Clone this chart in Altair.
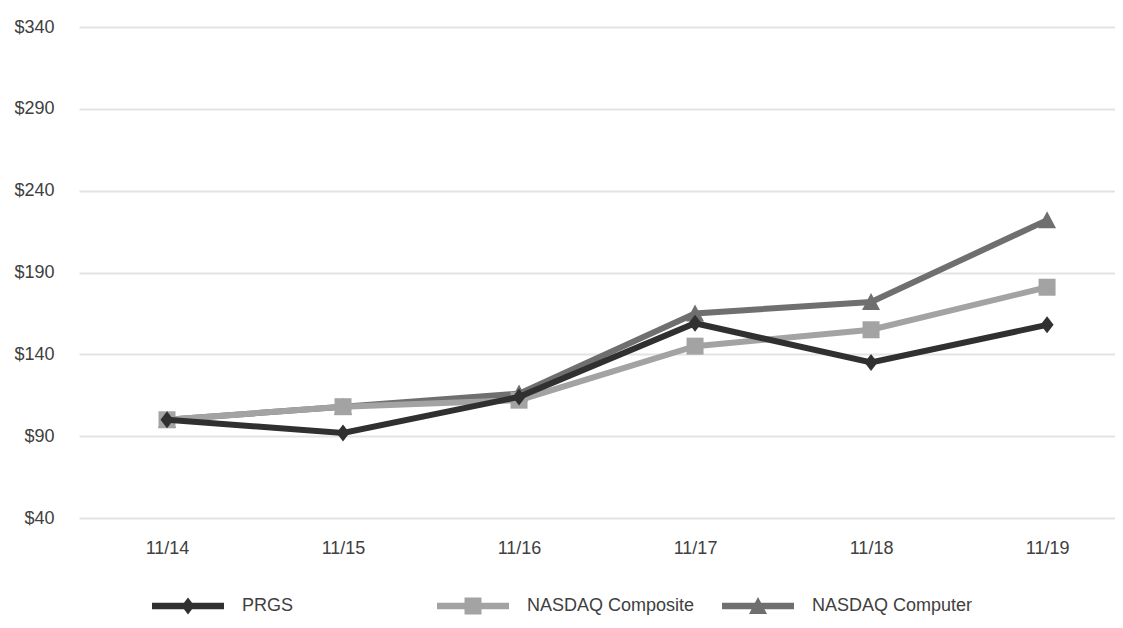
import json
import altair as alt
import pandas as pd

years = ["11/14", "11/15", "11/16", "11/17", "11/18", "11/19"]
series_names = ["PRGS", "NASDAQ Composite", "NASDAQ Computer"]
prgs = [100, 92, 114, 159, 135, 158]
composite = [100, 108, 112, 145, 155, 181]
computer = [100, 108, 116, 165, 172, 222]
colors = ["#303030", "#a3a3a3", "#6f6f6f"]
y_ticks = [40, 90, 140, 190, 240, 290, 340]

# marker shapes (custom paths, unit = sqrt(size)/2 px)
marker_paths = [
    "M0,-1.7L1.3,0L0,1.7L-1.3,0Z",
    "M-1.7,-1.7L1.7,-1.7L1.7,1.7L-1.7,1.7Z",
    "M0,-1.8L1.8,1.6L-1.8,1.6Z",
]
bar = "M-7.2,-0.65L7.2,-0.65L7.2,0.65L-7.2,0.65Z"
legend_paths = [bar + p for p in marker_paths]

rows = []
for name, vals in zip(series_names, [prgs, composite, computer]):
    for idx, (yr, v) in enumerate(zip(years, vals)):
        rows.append({"idx": idx, "year": yr, "series": name, "value": v})
df = pd.DataFrame(rows)

FONT = "Liberation Sans"
TXT = "#404040"

x_enc = alt.X(
    "idx:Q",
    scale=alt.Scale(domain=[-0.5, 5.386], nice=False, zero=False),
    axis=alt.Axis(title=None, values=list(range(len(years))),
                  labelExpr=json.dumps(years) + "[datum.value]",
                  domain=False, ticks=False, tickSize=0, grid=False, labelPadding=21,
                  labelFont=FONT, labelFontSize=18, labelColor=TXT, labelFlush=False),
)
y_enc = alt.Y(
    "value:Q",
    scale=alt.Scale(domain=[40, 340], nice=False, zero=False),
    axis=alt.Axis(title=None, values=y_ticks, format="$,.0f", domain=False, ticks=False,
                  tickSize=0, grid=True, gridColor="#e3e3e3", gridWidth=2,
                  labelPadding=25, labelFont=FONT, labelFontSize=18, labelColor=TXT),
)

base = alt.Chart(df)
layers = []
draw_order = [2, 1, 0]
for i in draw_order:
    name = series_names[i]
    sub = base.transform_filter(alt.datum.series == name)
    layers.append(
        sub.mark_line(strokeWidth=6, color=colors[i]).encode(x=x_enc, y=y_enc)
    )
    layers.append(
        sub.mark_point(filled=True, size=100, opacity=1, shape=marker_paths[i],
                       color=colors[i], strokeWidth=0).encode(x=x_enc, y=y_enc)
    )

leg = alt.Legend(
    title=None, orient="none", legendX=100, legendY=570, direction="horizontal",
    columns=3, gridAlign="all", columnPadding=27, padding=0,
    labelFont=FONT, labelFontSize=18, labelColor=TXT, labelOffset=45, labelLimit=400,
    symbolSize=100, symbolStrokeWidth=0, symbolOpacity=1,
)
legend_layer = base.transform_filter("false").mark_point(
    filled=True, size=100, opacity=1, strokeWidth=0
).encode(
    x=x_enc, y=y_enc,
    color=alt.Color("series:N", scale=alt.Scale(domain=series_names, range=colors), legend=leg),
    shape=alt.Shape("series:N", scale=alt.Scale(domain=series_names, range=legend_paths), legend=leg),
)
layers.append(legend_layer)

chart = alt.layer(*layers).properties(
    width=1036, height=491,
    autosize=alt.AutoSizeParams(type="none"),
    padding={"left": 71, "top": 19, "right": 0, "bottom": 100},
).configure(background="white").configure_view(stroke=None)

chart.save("out.html", embed_options={"renderer": "svg", "actions": False})
